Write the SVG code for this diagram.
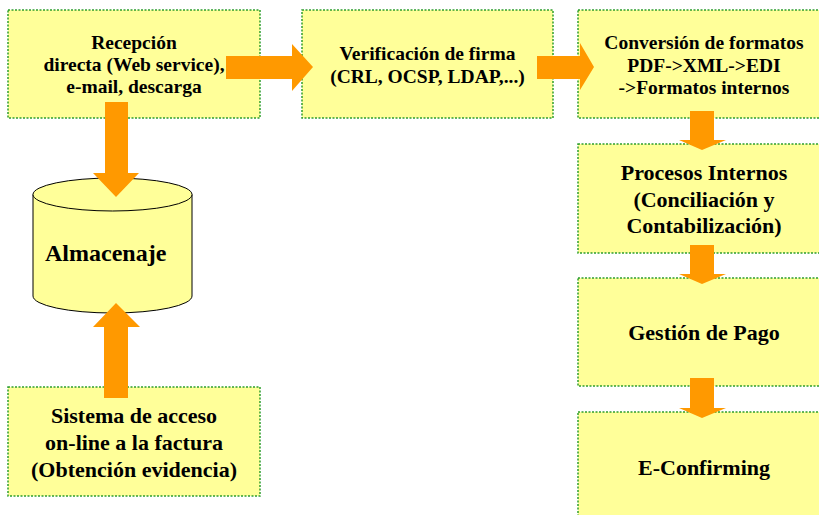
<svg xmlns="http://www.w3.org/2000/svg" width="819" height="515" viewBox="0 0 819 515">
<style>
.box{fill:#FFFF99;stroke:#2E9E2E;stroke-width:1.5;stroke-dasharray:2 1.5}
.cyl{fill:#FFFF99;stroke:#000;stroke-width:1}
.arr{fill:#FF9900;stroke:none}
text{font-family:"Liberation Serif","Times New Roman",serif;font-weight:bold;fill:#000;text-anchor:middle}
.s{font-size:19.5px}
.m{font-size:22px}
.l{font-size:24px}
</style>
<rect width="819" height="515" fill="#fff"/>
<g id="recepcion">
<rect class="box" x="8" y="10" width="252" height="108"/>
<text class="s" x="134" y="49">Recepción</text>
<text class="s" x="134" y="71">directa (Web service),</text>
<text class="s" x="134" y="93">e-mail, descarga</text>
</g>
<g id="verificacion">
<rect class="box" x="302" y="10" width="251" height="108"/>
<text class="s" x="427.5" y="60">Verificación de firma</text>
<text class="s" x="427.5" y="83">(CRL, OCSP, LDAP,...)</text>
</g>
<g id="conversion">
<rect class="box" x="578" y="10" width="252" height="108"/>
<text class="s" x="704" y="49">Conversión de formatos</text>
<text class="s" x="704" y="72">PDF-&gt;XML-&gt;EDI</text>
<text class="s" x="704" y="94">-&gt;Formatos internos</text>
</g>
<g id="almacenaje">
<path class="cyl" d="M33,194.5 L33,296 A79.5,17 0 0 0 192,296 L192,194.5"/>
<ellipse class="cyl" cx="112.5" cy="194.5" rx="79.5" ry="16.5"/>
<text class="l" x="45" y="261" style="text-anchor:start">Almacenaje</text>
</g>
<g id="sistema">
<rect class="box" x="8" y="387" width="252" height="109"/>
<text class="m" x="134" y="423">Sistema de acceso</text>
<text class="m" x="134" y="450">on-line a la factura</text>
<text class="m" x="134" y="477">(Obtención evidencia)</text>
</g>
<g id="procesos">
<rect class="box" x="578" y="144" width="252" height="109"/>
<text class="m" x="704" y="180">Procesos Internos</text>
<text class="m" x="704" y="207">(Conciliación y</text>
<text class="m" x="704" y="233">Contabilización)</text>
</g>
<g id="gestion">
<rect class="box" x="578" y="278" width="252" height="108"/>
<text class="m" x="704" y="340">Gestión de Pago</text>
</g>
<g id="econfirming">
<rect class="box" x="578" y="412" width="252" height="110"/>
<text class="m" x="704" y="475">E-Confirming</text>
</g>
<g id="connectors">
<polygon class="arr" points="226,56 292,56 292,44 313,67 292,91 292,79 226,79"/>
<polygon class="arr" points="537,56 580,56 580,43 594,67 580,90 580,79 537,79"/>
<polygon class="arr" points="105,102 128,102 128,173 139,173 116,197 93,173 105,173"/>
<polygon class="arr" points="104,398 128,398 128,327 140,327 116,303 93,327 104,327"/>
<polygon class="arr" points="690,111 714,111 714,140 726,140 702,150 679,140 690,140"/>
<polygon class="arr" points="690,245 714,245 714,274 726,274 702,284 679,274 690,274"/>
<polygon class="arr" points="690,378 714,378 714,408 726,408 702,418 679,408 690,408"/>
</g>
</svg>
